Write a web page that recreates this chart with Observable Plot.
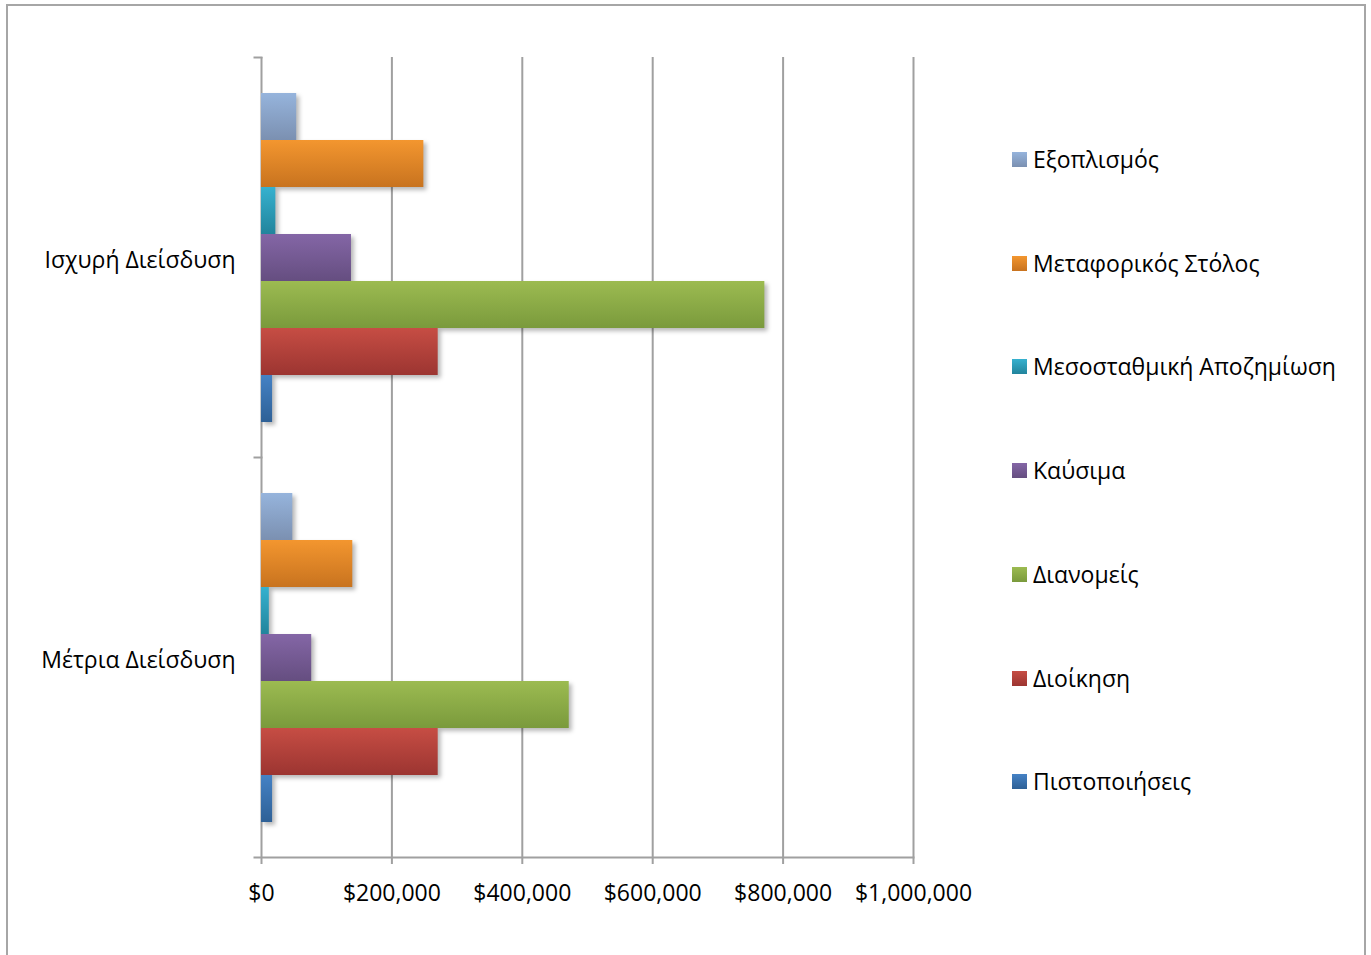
<!DOCTYPE html>
<html>
<head>
<meta charset="utf-8">
<script src="https://cdn.jsdelivr.net/npm/d3@7"></script>
<script src="https://cdn.jsdelivr.net/npm/@observablehq/plot@0.6"></script>
<style>
  html, body { margin: 0; padding: 0; background: #fff; }
  #wrap { position: relative; width: 1371px; height: 955px; overflow: hidden; font-family: "Open Sans", sans-serif; }
  #border { position: absolute; left: 6px; top: 4px; width: 1360px; height: 1000px; border: 2px solid #a6a6a6; box-sizing: border-box; }
  #chart { position: absolute; left: 0; top: 0; }
  #legend { position: absolute; left: 1012px; top: 0; }
  .item { position: absolute; left: 0; height: 30px; white-space: nowrap; display: flex; align-items: center; font-size: 23px; color: #000; }
  .sw { width: 15px; height: 15px; margin-right: 6px; }
</style>
</head>
<body>
<div id="wrap">
  <div id="border"></div>
  <div id="chart"></div>
  <div id="legend"></div>
</div>
<script>
const categories = ["Ισχυρή Διείσδυση", "Μέτρια Διείσδυση"];
const seriesNames = ["Εξοπλισμός", "Μεταφορικός Στόλος", "Μεσοσταθμική Αποζημίωση", "Καύσιμα", "Διανομείς", "Διοίκηση", "Πιστοποιήσεις"];
const strongValues = [54000, 249000, 22000, 138000, 772000, 271000, 17000];
const moderateValues = [48000, 140000, 12000, 77000, 472000, 271000, 17000];
const xTicks = [0, 200000, 400000, 600000, 800000, 1000000];
const colorsTop = ["#96b4dc", "#f3962f", "#36b1cf", "#8466a6", "#9cbb51", "#c64d44", "#4582c5"];
const colorsBottom = ["#7b90b1", "#c8731f", "#22849c", "#654e80", "#7a9a3c", "#9c3531", "#2e6096"];

const rows = [];
categories.forEach((c, ci) => {
  const vals = ci === 0 ? strongValues : moderateValues;
  seriesNames.forEach((s, si) => rows.push({category: c, series: s, value: vals[si], idx: si}));
});

const grid = "#a0a0a0";
const plotWidth = 652;

const chart = Plot.plot({
  width: 1000,
  height: 930,
  marginLeft: 261,
  marginRight: 87,
  marginTop: 57,
  marginBottom: 73,
  style: {fontFamily: "Open Sans, sans-serif", fontSize: "23px", color: "#000", background: "transparent"},
  x: {domain: [0, 1000000], label: null},
  y: {domain: seriesNames, paddingInner: 0, paddingOuter: 0.73, axis: null},
  fy: {domain: categories, padding: 0, label: null},
  color: {type: "identity"},
  marks: [
    Plot.ruleX(xTicks, {stroke: grid, strokeWidth: 2}),
    Plot.frame({anchor: "top", insetLeft: -7, insetRight: plotWidth, stroke: grid, strokeWidth: 2}),
    Plot.frame({anchor: "bottom", facet: "super", insetLeft: -7, stroke: grid, strokeWidth: 2}),
    Plot.barX(rows, {
      fy: "category", y: "series", x: "value",
      fill: d => `url(#grad${d.idx})`,
      imageFilter: "drop-shadow(3px 3px 2px rgba(0,0,0,0.28))"
    }),
    Plot.axisX(xTicks, {tickSize: 7, stroke: grid, strokeWidth: 2, tickPadding: 20, tickFormat: d3.format("$,"), label: null, fill: "#000"}),
    Plot.axisFy({anchor: "left", tickSize: 0, tickPadding: 26, dy: 3, label: null, fill: "#000"})
  ]
});

const svg = d3.select(chart);
const defs = svg.insert("defs", ":first-child");
colorsTop.forEach((c, i) => {
  const g = defs.append("linearGradient").attr("id", "grad" + i)
    .attr("x1", 0).attr("y1", 0).attr("x2", 0).attr("y2", 1);
  g.append("stop").attr("offset", "0%").attr("stop-color", c);
  g.append("stop").attr("offset", "100%").attr("stop-color", colorsBottom[i]);
});
document.getElementById("chart").appendChild(chart);

const legend = d3.select("#legend");
const legendY = [159, 263, 366, 470, 574, 678, 781];
seriesNames.forEach((s, i) => {
  const it = legend.append("div").attr("class", "item").style("top", (legendY[i] - 15) + "px");
  it.append("div").attr("class", "sw")
    .style("background", `linear-gradient(${colorsTop[i]}, ${colorsBottom[i]})`);
  it.append("span").text(s);
});
</script>
</body>
</html>
